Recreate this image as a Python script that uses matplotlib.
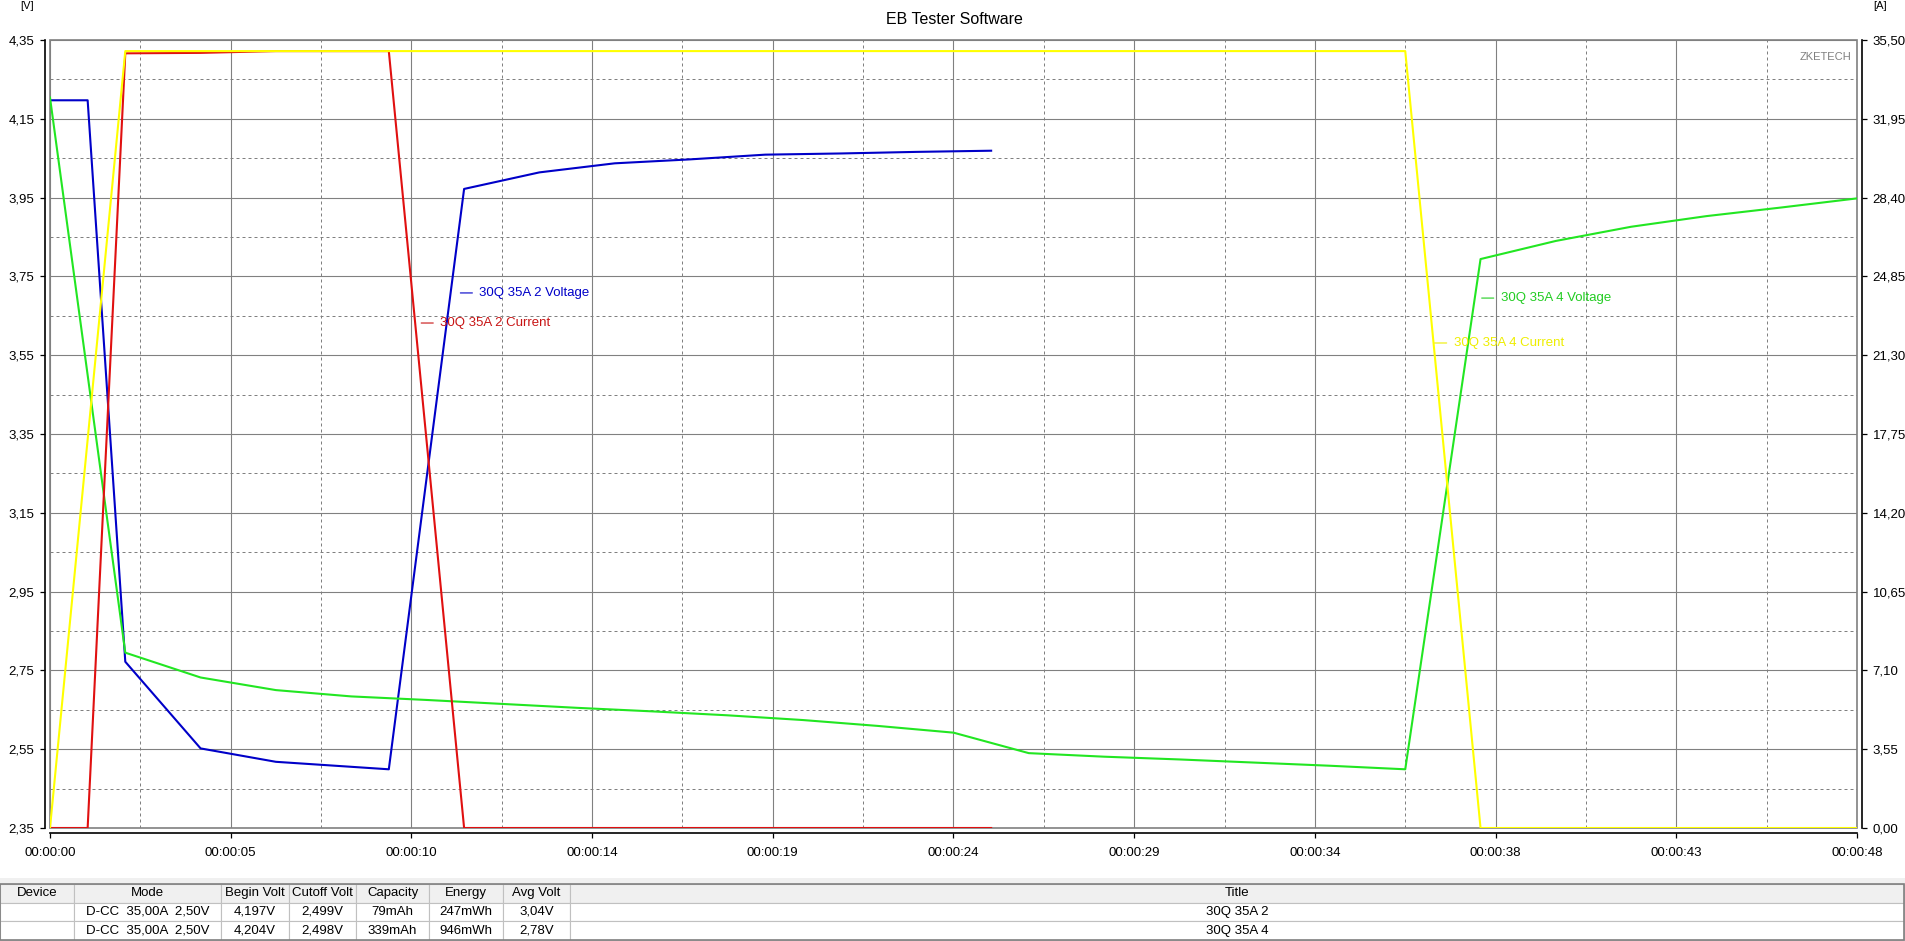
import numpy as np
import matplotlib
matplotlib.use("Agg")
import matplotlib.pyplot as plt
from matplotlib.ticker import FuncFormatter
from matplotlib.patches import Rectangle

plt.rcParams['font.family'] = ['Liberation Sans', 'DejaVu Sans']

# 30Q 35A 2 - time [s], voltage [V], current [A]
t_2 = [0, 1, 2, 4, 6, 9, 11, 13, 15, 17, 19, 21, 23, 25]
volt_2 = [4.197, 4.197, 2.772, 2.552, 2.518, 2.499, 3.972, 4.014, 4.037, 4.047,
          4.059, 4.062, 4.066, 4.069]
curr_2 = [0.0, 0.0, 34.9, 34.92, 35.0, 35.0, 0.0, 0.0, 0.0, 0.0, 0.0, 0.0, 0.0, 0.0]

# 30Q 35A 4
t_4 = [0, 2, 4, 6, 8, 10, 12, 14, 16, 18, 20, 22, 24, 26, 28, 30, 32, 34, 36,
       38, 40, 42, 44, 46, 48]
volt_4 = [4.204, 2.795, 2.732, 2.700, 2.684, 2.675, 2.665, 2.655, 2.646, 2.636,
          2.624, 2.609, 2.592, 2.540, 2.531, 2.524, 2.516, 2.508, 2.499,
          3.794, 3.840, 3.876, 3.903, 3.925, 3.948]
curr_4 = [0.0, 35.0, 35.0, 35.0, 35.0, 35.0, 35.0, 35.0, 35.0, 35.0, 35.0, 35.0,
          35.0, 35.0, 35.0, 35.0, 35.0, 35.0, 35.0, 0.0, 0.0, 0.0, 0.0, 0.0, 0.0]

table_header = ["Device", "Mode", "Begin Volt", "Cutoff Volt", "Capacity",
                "Energy", "Avg Volt", "Title"]
table_rows = [
    ["", "D-CC  35,00A  2,50V", "4,197V", "2,499V", "79mAh", "247mWh", "3,04V", "30Q 35A 2"],
    ["", "D-CC  35,00A  2,50V", "4,204V", "2,498V", "339mAh", "946mWh", "2,78V", "30Q 35A 4"],
]

BLUE = "#0000c8"
RED = "#e01010"
GREEN = "#22e622"
YELLOW = "#ffff00"
GRID = "#808080"
W, H = 1906, 941

fig = plt.figure(figsize=(W / 100, H / 100), dpi=100)
ax1 = fig.add_axes([50 / W, (H - 828) / H, 1807 / W, 788 / H])
ax2 = ax1.twinx()

def comma(v, pos):
    return ("%.2f" % v).replace(".", ",")

def hms(s, pos):
    return "00:00:%02d" % round(s)

ax1.set_xlim(0, 48)
ax1.set_ylim(2.35, 4.35)
ax2.set_ylim(0, 35.5)
ax1.set_xticks(np.linspace(0, 48, 11))
ax1.set_xticks(np.linspace(0, 48, 21), minor=True)
ax1.set_yticks(np.linspace(2.35, 4.35, 11))
ax1.set_yticks(np.linspace(2.35, 4.35, 21), minor=True)
ax2.set_yticks(np.linspace(0, 35.5, 11))
ax1.xaxis.set_major_formatter(FuncFormatter(hms))
ax1.yaxis.set_major_formatter(FuncFormatter(comma))
ax2.yaxis.set_major_formatter(FuncFormatter(comma))

ax1.set_axisbelow(True)
ax1.grid(which='major', color=GRID, lw=0.8, ls='-')
ax1.grid(which='minor', color=GRID, lw=0.72, ls=(0, (3, 3)))
ax1.add_patch(Rectangle((0, 0), 1, 1, transform=ax1.transAxes, fill=False,
                        ec=GRID, lw=1.2, clip_on=False, zorder=1))

for sp in ['top', 'right']:
    ax1.spines[sp].set_visible(False)
for sp in ['top', 'left', 'bottom']:
    ax2.spines[sp].set_visible(False)
ax1.spines['left'].set_position(('outward', 3.6))
ax1.spines['bottom'].set_position(('outward', 3.6))
ax2.spines['right'].set_position(('outward', 3.6))
for sp in [ax1.spines['left'], ax1.spines['bottom'], ax2.spines['right']]:
    sp.set_linewidth(1.2)

ax1.tick_params(which='major', direction='out', length=3.6, width=0.9, labelsize=9.5)
ax1.tick_params(axis='x', pad=6.5)
ax1.tick_params(axis='y', pad=4)
ax1.tick_params(which='minor', length=0)
ax2.tick_params(direction='out', length=3.6, width=0.9, labelsize=9.5, pad=4)

# voltages on the left scale, currents on the right one
ax1.plot(t_2, volt_2, color=BLUE, lw=1.5)
ax1.plot(t_4, volt_4, color=GREEN, lw=1.5)
ax2.plot(t_2, curr_2, color=RED, lw=1.5)
ax2.plot(t_4, curr_4, color=YELLOW, lw=1.5)

labels = [
    (ax1, "30Q 35A 2 Voltage", (10.9, 3.708), BLUE),
    (ax2, "30Q 35A 2 Current", (9.86, 22.75), "#c81414"),
    (ax1, "30Q 35A 4 Voltage", (38.03, 3.695), "#22cc22"),
    (ax2, "30Q 35A 4 Current", (36.78, 21.85), "#eeee00"),
]
for a, txt, xy, c in labels:
    a.annotate(txt, xy=xy, xytext=(13.7, 0), textcoords='offset points',
               color=c, fontsize=9.5, ha='left', va='center',
               arrowprops=dict(arrowstyle='-', color=c, lw=0.8, shrinkA=3, shrinkB=0))

ax1.text(0.997, 0.978, "ZKETECH", transform=ax1.transAxes, ha='right', va='center',
         color=GRID, fontsize=8)

fig.text(954 / W, 1 - 20 / H, "EB Tester Software", ha='center', va='center', fontsize=11.5)
fig.text(27 / W, 1 - 1 / H, "[V]", ha='center', va='top', fontsize=8)
fig.text(1880 / W, 1 - 1 / H, "[A]", ha='center', va='top', fontsize=8)

# table at the bottom
tax = fig.add_axes([0, 0, 1, 63 / H])
tax.set_xlim(0, W)
tax.set_ylim(63, 0)
tax.axis('off')
tax.add_patch(Rectangle((0, 0), W, 63, color="#f0f0f0", zorder=0))
col_w = [74, 147, 68, 67, 73, 74, 67, 1334]
tbl = tax.table(cellText=table_rows, colLabels=table_header,
                colWidths=[w / sum(col_w) for w in col_w],
                cellLoc='center', bbox=[0, 1 / 63, 1904 / W, 56 / 63])
tbl.auto_set_font_size(False)
tbl.set_fontsize(9.5)
for (r, c), cell in tbl.get_celld().items():
    cell.set_edgecolor("#c0c0c0")
    cell.set_linewidth(0.8)
    cell.set_facecolor("#f0f0f0" if r == 0 else "white")
tax.add_patch(Rectangle((0, 6), 1904, 56, fill=False, ec="#808080", lw=1.2, zorder=5))

fig.savefig("out.png", dpi=100)
